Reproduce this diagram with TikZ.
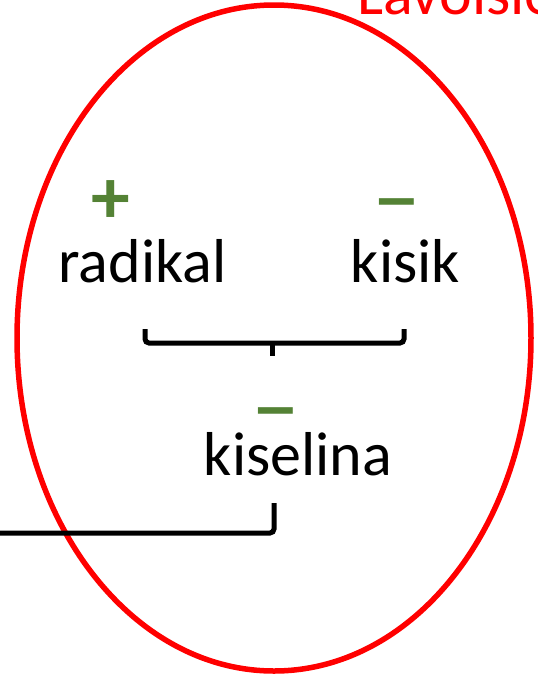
\documentclass[tikz,border=0pt]{standalone}
\usepackage{fontspec}
\setmainfont{Carlito}
\usepackage{graphicx}
\definecolor{signgreen}{RGB}{84,130,53}
\tikzset{
  word/.style={inner sep=0pt, anchor=base, font=\fontsize{62}{70}\selectfont},
  sign/.style={inner sep=0pt, anchor=center, text=signgreen, font=\fontsize{62}{66}\selectfont\bfseries},
  brace/.style={line width=5pt, rounded corners=4pt, line cap=butt},
}
\begin{document}
\begin{tikzpicture}[x=1pt,y=-1pt]
\useasboundingbox (0,0) rectangle (538,678);
\clip (0,0) rectangle (538,678);
\fill[white] (0,0) rectangle (538,678);
% red ellipse
\draw[red, line width=5.5pt] (274,338) ellipse [x radius=257, y radius=333];
% title (cut off by the page edge, as in the reference)
\node[word, anchor=base west, text=red] (title) at (357,14) {Lavoisier};
% words
\node[word] (radikal) at (142.5,282) {radikal};
\node[word] (kisik) at (405.5,282) {kisik};
\node[word] (kiselina) at (298,475) {kiselina};
% signs
\node[sign] (plus) at (111,202) {\scalebox{1.25}{+}};
\node[sign] (minus1) at (396.5,212) {\scalebox{1.45}[1.15]{−}};
\node[sign] (minus2) at (276,421) {\scalebox{1.45}[1.15]{−}};
% braces
\coordinate (b1l) at (145,329);
\coordinate (b1r) at (404,329);
\coordinate (b1m) at (272,343);
\draw[brace] (b1l) -- (145,343) -- (404,343) -- (b1r);
\draw[line width=5pt] (b1m) -- (272,356);
\coordinate (b2t) at (274,503);
\coordinate (b2e) at (-5,533);
\draw[brace] (b2t) -- (274,533) -- (b2e);
\end{tikzpicture}
\end{document}
